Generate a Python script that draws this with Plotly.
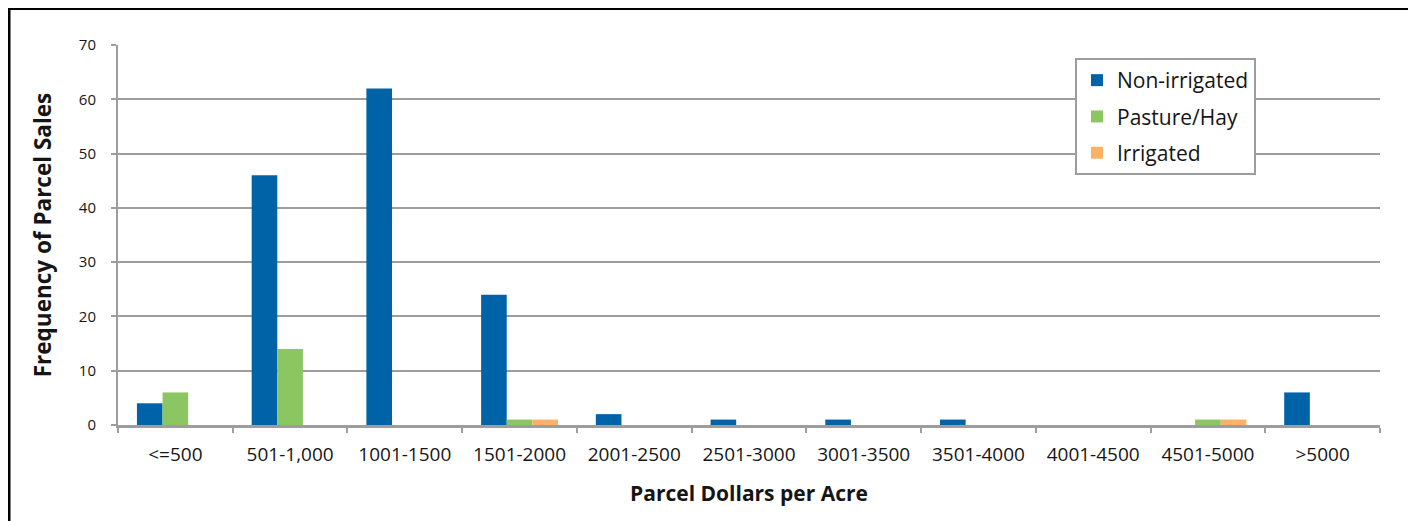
import plotly.graph_objects as go

categories = ["<=500", "501-1,000", "1001-1500", "1501-2000", "2001-2500", "2501-3000",
              "3001-3500", "3501-4000", "4001-4500", "4501-5000", ">5000"]
non_irrigated = [4, 46, 62, 24, 2, 1, 1, 1, 0, 0, 6]
pasture_hay = [6, 14, 0, 1, 0, 0, 0, 0, 0, 1, 0]
irrigated = [0, 0, 0, 1, 0, 0, 0, 0, 0, 1, 0]

FONT = "Open Sans"
GRID = "#9D9DA0"
TXT = "#151515"

fig = go.Figure()
fig.add_trace(go.Bar(x=categories, y=non_irrigated, name="Non-irrigated", legendgroup="a",
                     marker=dict(color="#0063A8", line=dict(width=0))))
fig.add_trace(go.Bar(x=categories, y=pasture_hay, name="Pasture/Hay", legendgroup="b",
                     marker=dict(color="#8BC663", line=dict(width=0))))
fig.add_trace(go.Bar(x=categories, y=irrigated, name="Irrigated", legendgroup="c",
                     marker=dict(color="#FCB166", line=dict(width=0))))

# page is shown with an 8px body margin; reference plot area spans x 118..1380, y 45..425
OFF = 8
pw, ph = 1262, 380
def px(x):
    return (x - 118) / pw
def py(y):
    return (425 - y) / ph

fig.update_layout(
    width=1416, height=521,
    margin=dict(l=118 - OFF, r=1416 - (1380 - OFF), t=45 - OFF, b=521 - (425 - OFF),
                autoexpand=False),
    paper_bgcolor="white", plot_bgcolor="white",
    barmode="group", bargap=0.33, bargroupgap=0,
    font=dict(family=FONT, size=15, color=TXT),
    showlegend=True,
    legend=dict(x=px(1075), y=py(58), xanchor="left", yanchor="top",
                bordercolor=GRID, borderwidth=2, bgcolor="white",
                font=dict(family=FONT, size=21, color=TXT),
                itemsizing="constant", tracegroupgap=6, traceorder="grouped"),
    xaxis=dict(
        type="category", tickson="boundaries", ticks="outside", ticklen=5,
        tickcolor=GRID, tickwidth=2,
        showline=True, linecolor=GRID, linewidth=3,
        showgrid=False, ticklabelstandoff=10,
        tickfont=dict(family=FONT, size=19, color=TXT),
        title=dict(text="<b>Parcel Dollars per Acre</b>", standoff=21,
                   font=dict(family=FONT, size=21, color=TXT)),
    ),
    yaxis=dict(
        range=[0, 70], dtick=10, ticks="outside", ticklen=5, tickcolor=GRID, tickwidth=2,
        showline=True, linecolor=GRID, linewidth=2,
        showgrid=True, gridcolor=GRID, gridwidth=2, zeroline=False,
        ticklabelstandoff=12,
        tickfont=dict(family=FONT, size=15, color=TXT),
        title=dict(text="<b>Frequency of Parcel Sales</b>", standoff=21,
                   font=dict(family=FONT, size=22.5, color=TXT)),
    ),
    shapes=[dict(type="rect", xref="paper", yref="paper",
                 x0=px(9), x1=px(1412), y0=py(560), y1=py(8.5),
                 line=dict(color="black", width=3), fillcolor="rgba(0,0,0,0)",
                 layer="below")],
)

fig.write_html("out.html")
